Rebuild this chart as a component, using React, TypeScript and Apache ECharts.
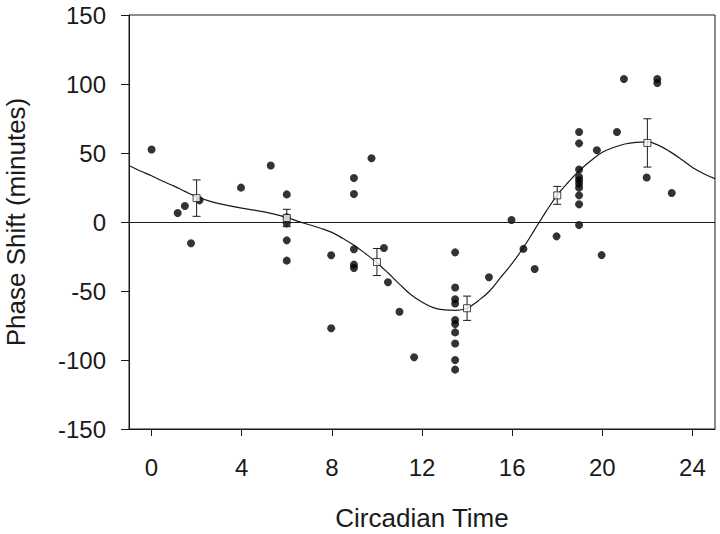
import React, { useEffect, useRef } from "react";
import * as echarts from "echarts";

// Individual phase shifts (circadian time, minutes)
const pointCT = [
  0, 1.16, 1.48, 1.75, 2.13, 3.97, 5.29,
  6, 6, 6, 6, 6,
  7.97, 7.97, 8.98, 8.98, 8.98, 8.98, 8.98, 9.76, 10.31, 10.49, 11.0, 11.65,
  13.47, 13.47, 13.47, 13.47, 13.47, 13.47, 13.47, 13.47, 13.47, 13.47,
  14.97, 15.97, 16.5, 17.0, 17.97,
  18.97, 18.97, 18.97, 18.97, 18.97, 18.97, 18.97, 18.97, 18.97, 18.97,
  19.76, 19.97, 20.65, 20.96, 21.97, 22.44, 22.44, 23.08,
];
const pointShift = [
  52.5, 6.5, 11.6, -15.4, 15.7, 24.9, 40.9,
  20, 3.5, -1, -13.3, -28,
  -24.1, -77, 31.9, 20.3, -19.8, -30.9, -33.3, 46.2, -18.8, -43.7, -65, -98,
  -22, -47.5, -56, -59, -71, -74, -80, -88, -100, -107,
  -40, 1.5, -19.5, -34, -10.4,
  65.2, 57, 38, 32.6, 30.2, 27.8, 24.9, 19.3, 12.8, -2.2,
  52, -24, 65.2, 103.6, 32.2, 103.6, 100.7, 21,
];

// Group means with error bars
const meanCT = [2, 6, 10, 14, 18, 22];
const meanShift = [17.3, 2.9, -29, -62.5, 19.3, 57.3];
const meanErr = [13.2, 6.3, 9.8, 8.8, 6.5, 17.5];

// Fitted curve
const curveCT = [
  -1, -0.5, 0, 0.5, 1, 1.5, 2, 2.5, 3, 4, 5, 6, 6.5, 7, 7.5, 8, 8.5, 9, 9.5,
  10, 10.5, 11, 11.5, 12, 12.5, 13, 13.5, 14, 14.5, 15, 15.5, 16, 16.5, 17,
  17.5, 18, 18.5, 19, 19.5, 20, 20.5, 21, 21.5, 22, 22.5, 23, 23.5, 24, 24.5, 25,
];
const curveShift = [
  41, 37, 33.5, 29.5, 26, 22, 18.3, 15.5, 13.3, 10, 7.3, 3.3, 0.5, -2, -4.5, -7.5, -12, -17, -23,
  -29.5, -37, -45, -52.5, -58, -62, -63.7, -64, -62.5, -57, -50, -40, -30, -18.5, -5.5,
  7.5, 19.5, 29, 37.5, 44.5, 50.5, 54, 56.5, 57.7, 58, 55.5, 51, 45.5, 39.5, 35, 31.4,
];

const xTicks = [0, 4, 8, 12, 16, 20, 24];

const FONT = "'Liberation Sans', Arial, Helvetica, sans-serif";
const INK = "#1a1a1a";

export default function App() {
  const ref = useRef<HTMLDivElement>(null);

  useEffect(() => {
    document.body.style.margin = "0";
    if (!ref.current) return;
    const chart = echarts.init(ref.current, null, { renderer: "svg" });

    const points = pointCT.map((x, i) => [x, pointShift[i]]);
    const means = meanCT.map((x, i) => [x, meanShift[i]]);
    const errs = meanCT.map((x, i) => [x, meanShift[i], meanErr[i]]);
    const curve = curveCT.map((x, i) => [x, curveShift[i]]);

    chart.setOption({
      animation: false,
      backgroundColor: "#ffffff",
      grid: {
        left: 129,
        right: 5,
        top: 15,
        bottom: 105,
        containLabel: false,
        outerBoundsMode: "none",
        show: true,
        borderColor: INK,
        borderWidth: 1,
        backgroundColor: "transparent",
      },
      xAxis: {
        type: "value",
        min: -1,
        max: 25,
        name: "Circadian Time",
        nameLocation: "middle",
        nameGap: 76,
        nameTextStyle: { fontFamily: FONT, fontSize: 26, color: INK },
        axisLine: { show: true, onZero: false, lineStyle: { color: INK, width: 1 } },
        axisTick: {
          show: true,
          inside: false,
          length: 7,
          customValues: xTicks,
          lineStyle: { color: INK },
        },
        axisLabel: {
          customValues: xTicks,
          fontFamily: FONT,
          fontSize: 24,
          color: INK,
          margin: 26,
        },
        splitLine: { show: false },
      },
      yAxis: {
        type: "value",
        min: -150,
        max: 150,
        interval: 50,
        name: "Phase Shift (minutes)",
        nameLocation: "middle",
        nameGap: 100,
        nameTextStyle: { fontFamily: FONT, fontSize: 26, color: INK },
        axisLine: { show: true, onZero: false, lineStyle: { color: INK, width: 1 } },
        axisTick: { show: true, inside: false, length: 8, lineStyle: { color: INK } },
        axisLabel: { fontFamily: FONT, fontSize: 24, color: INK, margin: 23 },
        splitLine: { show: false },
      },
      series: [
        {
          type: "line",
          data: curve,
          smooth: 0.4,
          symbol: "none",
          lineStyle: { color: INK, width: 1.2 },
          silent: true,
          z: 2,
          markLine: {
            silent: true,
            symbol: "none",
            label: { show: false },
            lineStyle: { color: INK, width: 1, type: "solid" },
            data: [{ yAxis: 0 }],
          },
        },
        {
          type: "scatter",
          data: points,
          symbol: "circle",
          symbolSize: 8,
          itemStyle: { color: "#000000" },
          z: 3,
        },
        {
          type: "custom",
          data: errs,
          z: 4,
          renderItem: (params: any, api: any) => {
            const x = api.value(0);
            const y = api.value(1);
            const e = api.value(2);
            const top = api.coord([x, y + e]);
            const bot = api.coord([x, y - e]);
            const w = 4;
            const style = { stroke: INK, lineWidth: 1 };
            return {
              type: "group",
              children: [
                { type: "line", shape: { x1: top[0], y1: top[1], x2: bot[0], y2: bot[1] }, style },
                { type: "line", shape: { x1: top[0] - w, y1: top[1], x2: top[0] + w, y2: top[1] }, style },
                { type: "line", shape: { x1: bot[0] - w, y1: bot[1], x2: bot[0] + w, y2: bot[1] }, style },
              ],
            };
          },
        },
        {
          type: "scatter",
          data: means,
          symbol: "rect",
          symbolSize: 7,
          itemStyle: { color: "#ffffff", borderColor: INK, borderWidth: 1 },
          z: 5,
        },
      ],
    });

    return () => chart.dispose();
  }, []);

  return <div ref={ref} style={{ width: 720, height: 534 }} />;
}
